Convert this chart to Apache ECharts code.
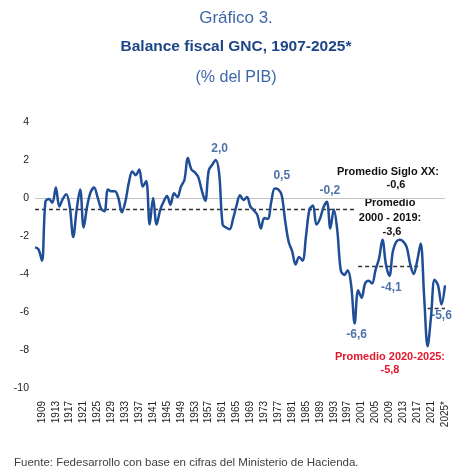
<!DOCTYPE html>
<html>
<head>
<meta charset="utf-8">
<script src="https://cdn.jsdelivr.net/npm/echarts@6/dist/echarts.min.js"></script>
<style>
html,body{margin:0;padding:0;background:#fff}
#chart{width:472px;height:474px}
</style>
</head>
<body>
<div id="chart"></div>
<script>
// años 1907-2025 (2025 proyectado)
var firstYear = 1907, lastYear = 2025;
var years = [];
for (var y = firstYear; y <= lastYear; y++) years.push(y === lastYear ? y + '*' : String(y));

// balance fiscal GNC, % del PIB
var balance = [
  -2.6, -2.7, -3.3, -0.2, -0.05, -0.25, 0.55, -0.45, -0.05, 0.2,      // 1907-1916
  -0.45, -2.05, -0.6, 0.45, -1.55, -0.45, 0.3, 0.55, 0.05, -0.55,     // 1917-1926
  -0.7, 0.45, 0.35, 0.35, 0.0, -0.75, -0.2, 0.8, 1.4, 1.2,            // 1927-1936
  1.5, 0.6, 0.9, -1.4, 0.0, -1.4, -0.65, -0.2, 0.1, -0.35,            // 1937-1946
  0.25, 0.05, 0.6, 0.95, 2.1, 1.5, 1.35, 1.1, 0.4, -0.15,             // 1947-1956
  1.45, 1.75, 2.0, 1.3, -1.4, -1.55, -1.65, -1.1, -0.4, 0.15,         // 1957-1966
  -0.1, 0.05, -0.45, -0.65, -0.9, -1.6, -1.05, -1.1, -0.2, 0.5,       // 1967-1976
  0.45, 0.15, -1.2, -2.3, -2.8, -3.5, -3.1, -3.3, -2.0, -0.6,         // 1977-1986
  -0.4, -1.4, -1.1, -0.5, -0.2, -1.6, -0.6, -1.7, -3.8, -4.05,        // 1987-1996
  -3.8, -4.6, -6.6, -4.85, -5.25, -4.5, -4.35, -4.5, -3.8, -3.2,      // 1997-2006
  -2.2, -3.5, -4.1, -2.8, -2.3, -2.2, -2.3, -2.6, -3.5, -4.0,         // 2007-2016
  -3.3, -2.4, -5.2, -7.8, -6.2, -4.3, -4.6, -5.6, -4.6                // 2017-2025
];

var yMin = -10, yMax = 4, yStep = 2;

// promedios por periodo
var avgSigloXX = -0.6, avg2000_2019 = -3.6, avg2020_2025 = -5.8;
var spanSigloXX = ['1907', '1999'];
var span2000_2019 = ['2000', '2018'];
var span2020_2025 = ['2020', '2025*'];

// años con etiqueta de valor
var labelYears = ['1959', '1976', '1991', '1999', '2009', '2024'];
var labelPlace = {
  '1959': ['top', [4, 0]],
  '1976': ['top', [7, -2]],
  '1991': ['top', [3, 0]],
  '1999': ['bottom', [2, 0]],
  '2009': ['bottom', [2, 1]],
  '2024': ['bottom', [0, 0]]
};

function fmt(v) {
  return v.toFixed(1).replace('.', ',');
}

var blue = '#1f4e96';
var font = 'Liberation Sans';

// puntos etiquetados, tomados de la misma serie
var labelData = labelYears.map(function (yr) {
  var v = balance[years.indexOf(yr)];
  return {
    value: [yr, v],
    label: {
      show: true,
      position: labelPlace[yr][0],
      offset: labelPlace[yr][1],
      distance: 4,
      formatter: fmt(v),
      color: '#1f4e96',
      fontSize: 12,
      fontWeight: 600,
      fontFamily: font
    }
  };
});

function txt(x, y, text, size, weight, color, align) {
  return {
    type: 'text', x: x, y: y, silent: true,
    style: {
      text: text, align: align || 'center', verticalAlign: 'middle',
      fontSize: size, fontWeight: weight, fontFamily: font, fill: color
    }
  };
}

var option = {
  animation: false,
  backgroundColor: '#fff',
  grid: { left: 35, right: 27, top: 122, bottom: 86 },
  xAxis: {
    type: 'category',
    data: years,
    boundaryGap: false,
    axisLine: { show: false },
    axisTick: { show: false },
    axisLabel: {
      rotate: 90,
      margin: 13,
      fontSize: 10,
      fontFamily: font,
      color: '#222',
      interval: function (idx) { return (idx - 2) % 4 === 0; }
    }
  },
  yAxis: {
    type: 'value',
    min: yMin, max: yMax, interval: yStep,
    axisLine: { show: false },
    axisTick: { show: false },
    splitLine: { show: false },
    axisLabel: { margin: 6, fontSize: 10.5, fontFamily: font, color: '#222' }
  },
  series: [{
    type: 'line',
    data: balance,
    smooth: 0.35,
    showSymbol: false,
    symbol: 'none',
    lineStyle: { color: blue, width: 2.5 },
    z: 3,
    markLine: {
      silent: true,
      symbol: 'none',
      label: { show: false },
      z: 1,
      data: [
        { yAxis: 0, lineStyle: { color: '#c4c4c4', width: 1.2, type: 'solid' } },
        [{ coord: [spanSigloXX[0], avgSigloXX] }, { coord: [spanSigloXX[1], avgSigloXX] }],
        [{ coord: [span2000_2019[0], avg2000_2019] }, { coord: [span2000_2019[1], avg2000_2019] }],
        [{ coord: [span2020_2025[0], avg2020_2025] }, { coord: [span2020_2025[1], avg2020_2025] }]
      ],
      lineStyle: { color: '#333', width: 1.3, type: [4, 3] }
    }
  }, {
    type: 'scatter',
    data: labelData,
    symbol: 'circle',
    symbolSize: 2,
    itemStyle: { color: 'rgba(0,0,0,0)' },
    silent: true,
    z: 4
  }],
  graphic: [
    txt(236, 18, 'Gráfico 3.', 17, 'normal', '#3d67a8'),
    txt(236, 47, 'Balance fiscal GNC, 1907-2025*', 15.5, 'bold', '#1c4587'),
    txt(236, 78, '(% del PIB)', 16, 'normal', '#3d67a8'),
    txt(388, 172, 'Promedio Siglo XX:', 11, 'bold', '#111'),
    txt(396, 185, fmt(avgSigloXX), 11, 'bold', '#111'),
    txt(390, 203, 'Promedio', 11, 'bold', '#111'),
    txt(390, 218, '2000 - 2019:', 11, 'bold', '#111'),
    txt(392, 232, fmt(avg2000_2019), 11, 'bold', '#111'),
    txt(390, 357, 'Promedio 2020-2025:', 11, 'bold', '#e3182d'),
    txt(390, 370, fmt(avg2020_2025), 11, 'bold', '#e3182d'),
    txt(14, 463, 'Fuente: Fedesarrollo con base en cifras del Ministerio de Hacienda.', 11.5, 'normal', '#404040', 'left')
  ]
};

var chart = echarts.init(document.getElementById('chart'));
chart.setOption(option);
</script>
</body>
</html>
